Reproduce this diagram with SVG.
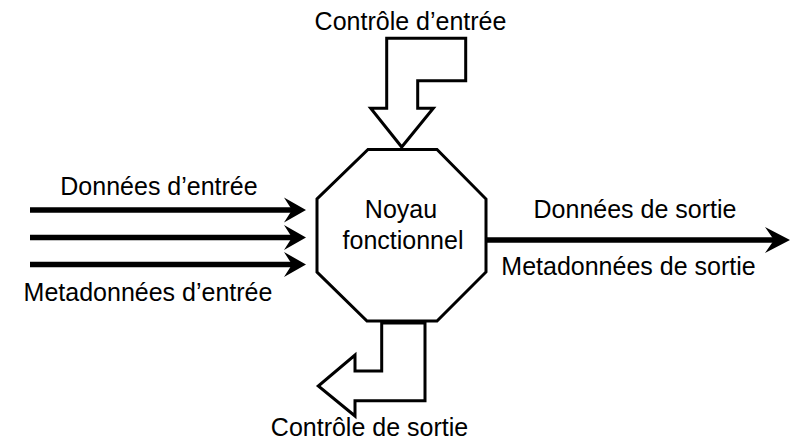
<svg xmlns="http://www.w3.org/2000/svg" xmlns:xlink="http://www.w3.org/1999/xlink" width="796" height="441" viewBox="0 0 796 441">
<style>
text{font-family:"Liberation Sans",Arial,sans-serif;font-size:25px;fill:#000;text-anchor:middle}
.shape{fill:#fff;stroke:#000;stroke-width:3;stroke-linejoin:miter}
.line{stroke:#000;stroke-width:5.5;fill:none}
.head{fill:#000;stroke:none}
</style>
<defs>
<path id="headL" d="M0,0 L-22,-12.5 L-14,0 L-22,12.5 Z"/>
<path id="headR" d="M0,0 L-25,-13 L-16,0 L-25,13 Z"/>
</defs>
<rect width="796" height="441" fill="#fff"/>
<g id="connectors">
<line class="line" x1="30" y1="210" x2="294" y2="210"/>
<line class="line" x1="30" y1="237.5" x2="294" y2="237.5"/>
<line class="line" x1="30" y1="264.5" x2="294" y2="264.5"/>
<use class="head" xlink:href="#headL" href="#headL" x="306" y="210"/>
<use class="head" xlink:href="#headL" href="#headL" x="306" y="237.5"/>
<use class="head" xlink:href="#headL" href="#headL" x="306" y="264.5"/>
<line class="line" x1="487" y1="240" x2="776" y2="240"/>
<use class="head" xlink:href="#headR" href="#headR" x="790" y="240"/>
</g>
<g id="noyau">
<polygon class="shape" points="368,149.5 437,149.5 486,199 486,272 437,321 367,321 317,272 317,199"/>
<text x="401" y="218">Noyau</text>
<text x="403" y="249">fonctionnel</text>
</g>
<g id="controle-entree">
<polygon class="shape" points="386.7,38.3 465.7,38.3 465.7,80.7 417.7,80.7 417.7,108.3 433.3,108.3 401.7,147 370.7,108.3 386.7,108.3"/>
<text x="410.5" y="30">Contrôle d’entrée</text>
</g>
<g id="controle-sortie">
<polygon class="shape" points="381.7,323 425,323 425,400.7 355,400.7 355,416 318.3,386 355,355 355,371 381.7,371"/>
<text x="369.5" y="436">Contrôle de sortie</text>
</g>
<g id="labels">
<text x="159" y="195">Données d’entrée</text>
<text x="148" y="301">Metadonnées d’entrée</text>
<text x="635" y="218">Données de sortie</text>
<text x="628.5" y="275">Metadonnées de sortie</text>
</g>
</svg>
